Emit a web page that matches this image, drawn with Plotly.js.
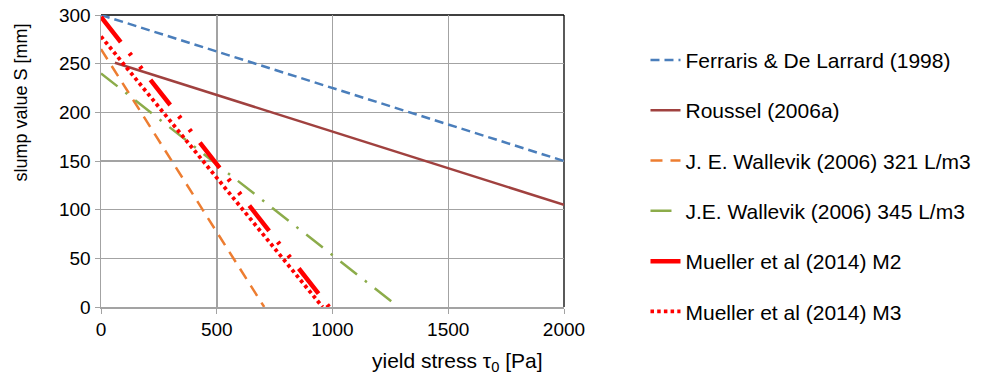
<!DOCTYPE html>
<html><head><meta charset="utf-8">
<script src="https://cdn.plot.ly/plotly-3.0.1.min.js"></script>
<style>body{margin:0;background:#fff}#c{width:984px;height:378px}</style>
</head><body><div id="c"></div>
<script>
const seriesNames = ["Ferraris & De Larrard (1998)","Roussel (2006a)","J. E. Wallevik (2006) 321 L/m3","J.E. Wallevik (2006) 345 L/m3","Mueller et al (2014) M2","Mueller et al (2014) M3"];
const ferrarisX = [0, 2000];   const ferrarisY = [300, 150];
const rousselX  = [60, 2000];  const rousselY  = [251, 105];
const wal321X   = [0, 705];    const wal321Y   = [265, 0];
const wal345X   = [0, 1285];   const wal345Y   = [240, 0];
const m2X       = [0, 985];    const m2Y       = [298, 0];
const m3X       = [0, 957];    const m3Y       = [278, 0];
const xTicks = [0, 500, 1000, 1500, 2000];
const yTicks = [0, 50, 100, 150, 200, 250, 300];

const styles = [
  {color:"#4a7ebb", width:2.5, dash:"9px,5px"},
  {color:"#a0413f", width:2.5, dash:"solid"},
  {color:"#ed7d31", width:2.5, dash:"12px,8px"},
  {color:"#8cac4a", width:2.5, dash:"21px,10px,2.5px,10px"},
  {color:"#ff0000", width:4.5, dash:"32px,14px,3px,14px,3px,14px"},
  {color:"#ff0000", width:3.8, dash:"3.5px,3.2px"}
];
const xs=[ferrarisX,rousselX,wal321X,wal345X,m2X,m3X];
const ys=[ferrarisY,rousselY,wal321Y,wal345Y,m2Y,m3Y];
const traces = seriesNames.map((n,i)=>({
  type:"scatter", mode:"lines", x:xs[i], y:ys[i], name:n, legendgroup:"g"+i,
  line:styles[i], hoverinfo:"none"
}));
const layout = {
  width:984, height:378,
  margin:{l:101, r:420, t:15, b:71, autoexpand:false},
  paper_bgcolor:"#fff", plot_bgcolor:"#fff",
  font:{family:"Liberation Sans, Arial, sans-serif", size:19, color:"#000"},
  showlegend:true,
  legend:{x:1.176, xanchor:"left", y:0.915, yanchor:"top", font:{size:21}, tracegroupgap:20, maxheight:400, bgcolor:"rgba(0,0,0,0)"},
  xaxis:{range:[0,2000], tickvals:xTicks, ticktext:xTicks.map(String), showgrid:true, gridcolor:"#a3a3a3", gridwidth:1.5,
    zeroline:false, showline:true, linecolor:"#a3a3a3", linewidth:1.5, ticks:"outside", ticklen:5, tickcolor:"#a3a3a3", fixedrange:true},
  yaxis:{range:[0,300], tickvals:yTicks, ticktext:yTicks.map(String), showgrid:true, gridcolor:"#a3a3a3", gridwidth:1.5,
    zeroline:false, showline:true, linecolor:"#a3a3a3", linewidth:1.5, ticks:"outside", ticklen:5, tickcolor:"#a3a3a3", fixedrange:true},
  shapes:[
    {type:"line", xref:"paper", yref:"paper", x0:0, x1:1, y0:1, y1:1, line:{color:"#000", width:1.3}, layer:"below"},
    {type:"line", xref:"paper", yref:"paper", x0:1, x1:1, y0:0, y1:1, line:{color:"#000", width:1.3}, layer:"below"}
  ],
  annotations:[
    {xref:"paper", yref:"paper", x:0.769, y:0, yshift:-55, xanchor:"center", yanchor:"middle", showarrow:false,
     text:"yield stress τ<sub>0</sub> [Pa]", font:{size:21}},
    {xref:"paper", yref:"paper", x:0, xshift:-80, y:0.70, xanchor:"center", yanchor:"middle", showarrow:false,
     text:"slump value S [mm]", textangle:-90, font:{size:18}}
  ]
};
Plotly.newPlot("c", traces, layout, {displayModeBar:false, staticPlot:true});
</script></body></html>
